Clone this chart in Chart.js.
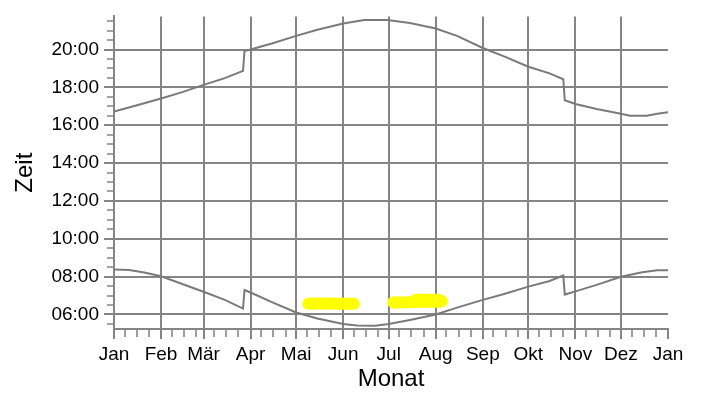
<!DOCTYPE html>
<html><head><meta charset="utf-8">
<script src="https://cdn.jsdelivr.net/npm/chart.js@4"></script>
<style>html,body{margin:0;padding:0;background:#fff;}#wrap{width:704px;height:397px;}</style>
</head><body><div id="wrap"><canvas id="c" width="704" height="397"></canvas></div>
<script>
// ---- data ----
const monthLabels = ['Jan','Feb','Mär','Apr','Mai','Jun','Jul','Aug','Sep','Okt','Nov','Dez','Jan'];
const monthStartDays = [0,31,59,90,120,151,181,212,243,273,304,334,365];
const minorDayOffsets = [7,15,23];
const timeTickHours = [6,8,10,12,14,16,18,20];
const timeTickLabels = ['06:00','08:00','10:00','12:00','14:00','16:00','18:00','20:00'];

const sunriseDays  = [0,10,20,31,45,59,73,85,86,90,104,120,134,151,160,172,181,195,212,226,243,257,273,287,296,297,304,318,334,348,358,365];
const sunriseHours = [8.37,8.35,8.22,8.02,7.61,7.20,6.77,6.31,7.29,7.16,6.65,6.10,5.79,5.50,5.41,5.40,5.49,5.71,6.00,6.36,6.77,7.08,7.47,7.77,8.06,7.05,7.22,7.56,7.99,8.23,8.33,8.33];

const sunsetDays  = [0,14,31,45,59,73,85,86,90,104,120,134,151,165,180,195,212,226,243,257,273,287,296,297,304,318,334,340,351,358,365];
const sunsetHours = [16.72,17.03,17.41,17.75,18.13,18.49,18.87,19.92,20.00,20.32,20.72,21.04,21.37,21.56,21.56,21.40,21.11,20.72,20.08,19.64,19.09,18.74,18.43,17.32,17.12,16.86,16.60,16.50,16.50,16.60,16.69];

const markADays  = [128,143,158];
const markAHours = [6.57,6.58,6.56];
const markBDays  = [184,195,202,216];
const markBHours = [6.63,6.65,6.71,6.70];
const markCDays  = [199,214];
const markCHours = [6.72,6.72];

// ---- styles ----
const GRID = '#858585';
const LINE = '#7a7a7a';
const FONT = 'Liberation Sans, Arial, Helvetica, sans-serif';
const toPts = (xs, ys) => xs.map((x, i) => ({x, y: ys[i]}));

const minorTicks = {
  id: 'minorTicks',
  afterDraw(chart) {
    const {ctx, chartArea, scales} = chart;
    const xs = scales.x, ys = scales.y;
    ctx.save();
    ctx.strokeStyle = GRID;
    ctx.lineWidth = 1.6;
    ctx.beginPath();
    monthStartDays.slice(0, -1).forEach(d => {
      minorDayOffsets.forEach(o => {
        const px = Math.round(xs.getPixelForValue(d + o));
        ctx.moveTo(px, chartArea.bottom);
        ctx.lineTo(px, chartArea.bottom + 8);
      });
    });
    for (let h = 5.5; h <= 21.5; h += 0.5) {
      if (timeTickHours.includes(h)) continue;
      const py = Math.round(ys.getPixelForValue(h));
      ctx.moveTo(chartArea.left - 7, py);
      ctx.lineTo(chartArea.left, py);
    }
    ctx.stroke();
    ctx.restore();
  }
};

new Chart(document.getElementById('c'), {
  type: 'line',
  data: {
    datasets: [
      {data: toPts(markADays, markAHours), borderColor: '#ffff00', borderWidth: 12, borderCapStyle: 'round', borderJoinStyle: 'round', pointRadius: 0, tension: 0.3},
      {data: toPts(markBDays, markBHours), borderColor: '#ffff00', borderWidth: 12, borderCapStyle: 'round', borderJoinStyle: 'round', pointRadius: 0, tension: 0.3},
      {data: toPts(markCDays, markCHours), borderColor: '#ffff00', borderWidth: 14, borderCapStyle: 'round', borderJoinStyle: 'round', pointRadius: 0, tension: 0},
      {data: toPts(sunriseDays, sunriseHours), borderColor: LINE, borderWidth: 2, pointRadius: 0, tension: 0},
      {data: toPts(sunsetDays, sunsetHours), borderColor: LINE, borderWidth: 2, pointRadius: 0, tension: 0}
    ]
  },
  options: {
    responsive: false,
    animation: false,
    layout: {padding: {left: 0, right: 36, top: 8, bottom: 0}},
    plugins: {legend: {display: false}, tooltip: {enabled: false}},
    scales: {
      x: {
        type: 'linear', min: 0, max: 365,
        afterBuildTicks: s => { s.ticks = monthStartDays.map(v => ({value: v})); },
        afterFit: s => { s.height = 68; },
        ticks: {callback: (v, i) => monthLabels[i], autoSkip: false, maxRotation: 0, color: '#000', padding: 4, font: {family: FONT, size: 19}},
        grid: {color: c => (c.tick && c.tick.value === 365) ? 'rgba(0,0,0,0)' : GRID, tickColor: GRID, lineWidth: 2, tickLength: 10},
        border: {color: GRID, width: 2},
        title: {display: true, text: 'Monat', color: '#000', font: {family: FONT, size: 24, lineHeight: 1.2}, padding: {top: 0, bottom: 3}}
      },
      y: {
        type: 'linear', min: 5.23, max: 21.75,
        afterBuildTicks: s => { s.ticks = timeTickHours.map(v => ({value: v})); },
        afterFit: s => { s.width = 114; },
        ticks: {callback: (v, i) => timeTickLabels[i], autoSkip: false, color: '#000', padding: 5, font: {family: FONT, size: 19}},
        grid: {color: GRID, tickColor: GRID, lineWidth: 2, tickLength: 10},
        border: {color: GRID, width: 2},
        title: {display: true, text: 'Zeit', color: '#000', font: {family: FONT, size: 24, lineHeight: 1.2}, padding: {top: 11, bottom: 0}}
      }
    }
  },
  plugins: [minorTicks]
});
</script>
</body></html>
